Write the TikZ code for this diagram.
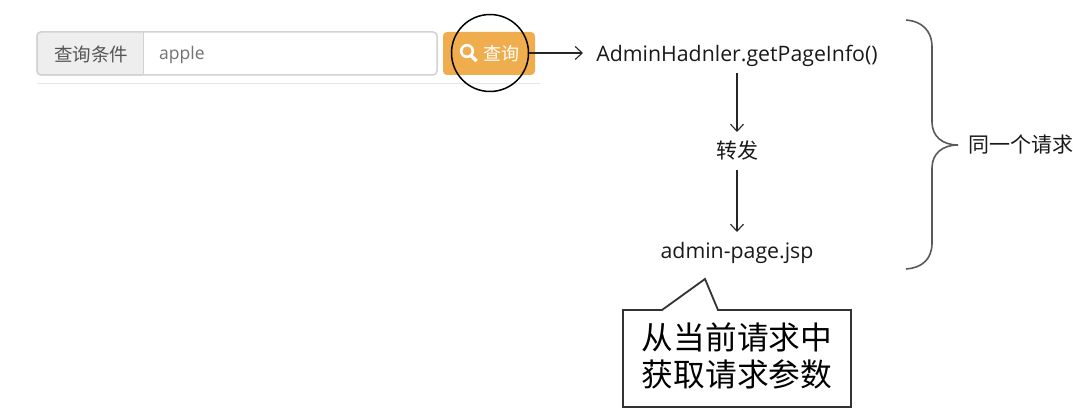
\documentclass[tikz,border=0pt]{standalone}
\usepackage{fontspec}
\setmainfont{Noto Sans CJK SC}
\newfontfamily\latinf{Open Sans}
\usetikzlibrary{arrows.meta}
\definecolor{btnor}{HTML}{F0AD4E}
\definecolor{labg}{HTML}{EEEEEE}
\definecolor{bordc}{HTML}{D2D2D2}
\definecolor{txtg}{HTML}{555555}
\tikzset{
 conn/.style={draw=black!85,line width=1.1pt,-{Straight Barb[length=7pt,width=13pt]}},
 lbl/.style={inner sep=0pt,text=black!90,font=\fontsize{21}{24}\selectfont},
 en/.style={inner sep=0pt,text=black!90,font=\latinf\fontsize{21.3}{24}\selectfont},
 brace/.style={draw=black!65,line width=1.6pt},
}
\begin{document}
\begin{tikzpicture}[x=1pt,y=-1pt]
\useasboundingbox (0,0) rectangle (1073,414);
% search form
\draw[fill=white,draw=bordc,line width=1.5pt,rounded corners=4pt] (37,32) rectangle (437,75);
\begin{scope}
\draw[fill=labg,draw=bordc,line width=1.5pt,rounded corners=4pt] (143,32) -- (37,32) -- (37,75) -- (143,75);
\fill[labg] (120,32.8) rectangle (143,74.2);
\draw[bordc,line width=1pt] (143,32) -- (143,75);
\end{scope}
\node[inner sep=0pt,text=txtg,font=\fontsize{18.5}{22}\selectfont] (cond) at (91,54) {查询条件};
\node[inner sep=0pt,text=black!55,anchor=west,font=\latinf\fontsize{17.5}{20}\selectfont] (val) at (159,54.5) {apple};
\fill[btnor,rounded corners=4pt] (443,32) rectangle (535,75);
\draw[white,line width=2.6pt] (467,51) circle (5.8);
\draw[white,line width=3.2pt] (471,55.5) -- (476.5,61);
\node[inner sep=0pt,text=white,font=\fontsize{18}{22}\selectfont] (btn) at (501,54) {查询};
\draw[black!10,line width=1pt] (37,83.5) -- (540,83.5);
\node[circle,draw=black,line width=1.5pt,minimum size=77pt,inner sep=0pt] (ring) at (490,53) {};
% flow
\node[en] (handler) at (737,55.5) {AdminHadnler.getPageInfo()};
\node[lbl] (fwd) at (737,151) {转发};
\node[en] (jsp) at (737,252.5) {admin-page.jsp};
\coordinate (hw) at (583,53);
\draw[conn] (ring.east) -- (hw);
\coordinate (hs) at (737,73);
\coordinate (fn) at (737,132);
\coordinate (fs) at (737,170);
\coordinate (jn) at (737,232);
\draw[conn] (hs) -- (fn);
\draw[conn] (fs) -- (jn);
% brace
\draw[brace] (906,20) .. controls (921,21) and (932,30) .. (932,47) -- (932,122) .. controls (932,136) and (942,145) .. (958,145) .. controls (942,145) and (932,154) .. (932,168) -- (932,243) .. controls (932,260) and (921,268) .. (906,269);
\node[lbl,anchor=west] (same) at (968,145) {同一个请求};
% callout
\draw[draw=black!80,fill=white,line width=1.8pt] (623,310) -- (662,310) -- (705,279) -- (718,310) -- (851,310) -- (851,407) -- (623,407) -- cycle;
\node[inner sep=0pt,align=center,text=black,font=\fontsize{31.7}{37.5}\selectfont] (note) at (737,356) {从当前请求中\\获取请求参数};
\end{tikzpicture}
\end{document}
